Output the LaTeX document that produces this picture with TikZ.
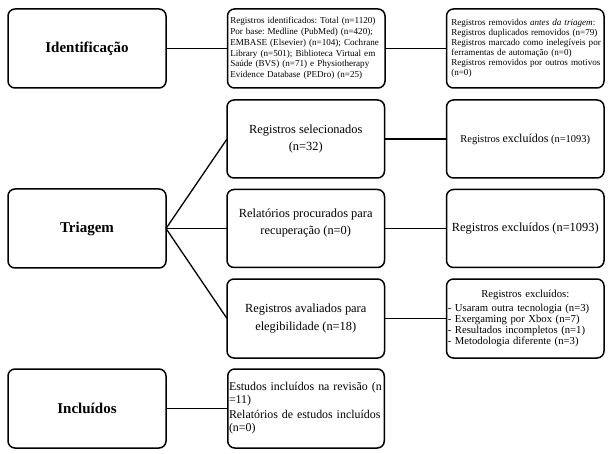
\documentclass[tikz,border=0pt]{standalone}
\usepackage{fontspec}
\setmainfont{Liberation Serif}
\frenchspacing
\begin{document}
\begin{tikzpicture}[x=1pt,y=-1pt,
  box/.style={draw=black, line width=1.5pt, rounded corners=7pt, inner sep=0pt, outer sep=0pt, minimum width=157.5pt},
  head/.style={box, minimum width=158pt, minimum height=79pt, font=\fontsize{15}{18}\selectfont\bfseries},
  mid/.style={box, align=center, font=\fontsize{12.4}{17.5}\selectfont},
  small/.style={box, align=left},
  conn/.style={line width=1.3pt}]
\fill[white] (0,0) rectangle (610,454);
\useasboundingbox (0,0) rectangle (610,454);

% left column
\node[head] (ident) at (87,48.5) {Identificação};
\node[head] (tri) at (87,228.5) {Triagem};
\node[head] (incl) at (87,408.5) {Incluídos};

% top row
\node[small, minimum height=79pt, text width=152pt, font=\fontsize{9.1}{10.7}\selectfont] (regid) at (306.25,48.5)
  {Registros identificados: Total (n=1120)\\
   Por base: Medline (PubMed) (n=420);\\
   EMBASE (Elsevier) (n=104); Cochrane\\
   Library (n=501); Biblioteca Virtual em\\
   Saúde (BVS) (n=71) e Physiotherapy\\
   Evidence Database (PEDro) (n=25)};
\node[small, minimum height=79pt, text width=152pt, font=\fontsize{9.1}{9.9}\selectfont] (regrem) at (525.25,48.5)
  {\hspace*{2pt}Registros removidos \textit{antes da triagem}:\\
   \hspace*{2pt}Registros duplicados removidos (n=79)\\
   \hspace*{2pt}Registros marcado como inelegíveis por\\
   \hspace*{2pt}ferramentas de automação (n=0)\\
   \hspace*{2pt}Registros removidos por outros motivos\\
   \hspace*{2pt}(n=0)};

% triagem rows
\node[mid, minimum height=78pt] (sel) at (305.75,139) {Registros selecionados\\(n=32)};
\node[box, minimum height=78pt] (exc1) at (525.25,139)
  {{\fontsize{10.5}{12}\selectfont Registros} {\fontsize{12}{14}\selectfont excluídos} {\fontsize{10.5}{12}\selectfont (n=1093)}};

\node[box, minimum height=78pt, font=\fontsize{12.4}{17.5}\selectfont] (rel) at (305.75,228.5)
  {\raisebox{6pt}[\height][\depth]{\begin{tabular}{@{}c@{}}Relatórios procurados para\\recuperação (n=0)\end{tabular}}};
\node[box, minimum height=78pt, font=\fontsize{12.4}{15}\selectfont] (exc2) at (525.25,228.5) {Registros excluídos (n=1093)};

\node[mid, minimum height=79pt] (aval) at (305.75,318.5) {Registros avaliados para\\elegibilidade (n=18)};
\node[small, minimum height=79pt, text width=155pt, font=\fontsize{10.7}{11}\selectfont] (exc3) at (525.25,318.5)
  {\makebox[155pt][c]{Registros excluídos:}\\[3pt]
   - Usaram outra tecnologia (n=3)\\
   - Exergaming por Xbox (n=7)\\
   - Resultados incompletos (n=1)\\
   - Metodologia diferente (n=3)};

% included row
\node[small, minimum height=79pt, minimum width=156.5pt, text width=154pt, font=\fontsize{11.9}{13}\selectfont] (inclR) at (306,408.5)
  {\mbox{Estudos incluídos na revisão (n}\\
   =11)\\[2pt]
   \mbox{Relatórios de estudos incluídos}\\
   (n=0)};

% connectors
\draw[conn] (ident.east) -- (regid.west);
\draw[conn] (regid.east) -- (regrem.west);
\draw[conn] (tri.east) -- (sel.west);
\draw[conn] (tri.east) -- (rel.west);
\draw[conn] (tri.east) -- (aval.west);
\draw[conn] (sel.east) -- (exc1.west);
\draw[conn] (rel.east) -- (exc2.west);
\draw[conn] (aval.east) -- (exc3.west);
\draw[conn] (incl.east) -- (inclR.west);
\end{tikzpicture}
\end{document}
